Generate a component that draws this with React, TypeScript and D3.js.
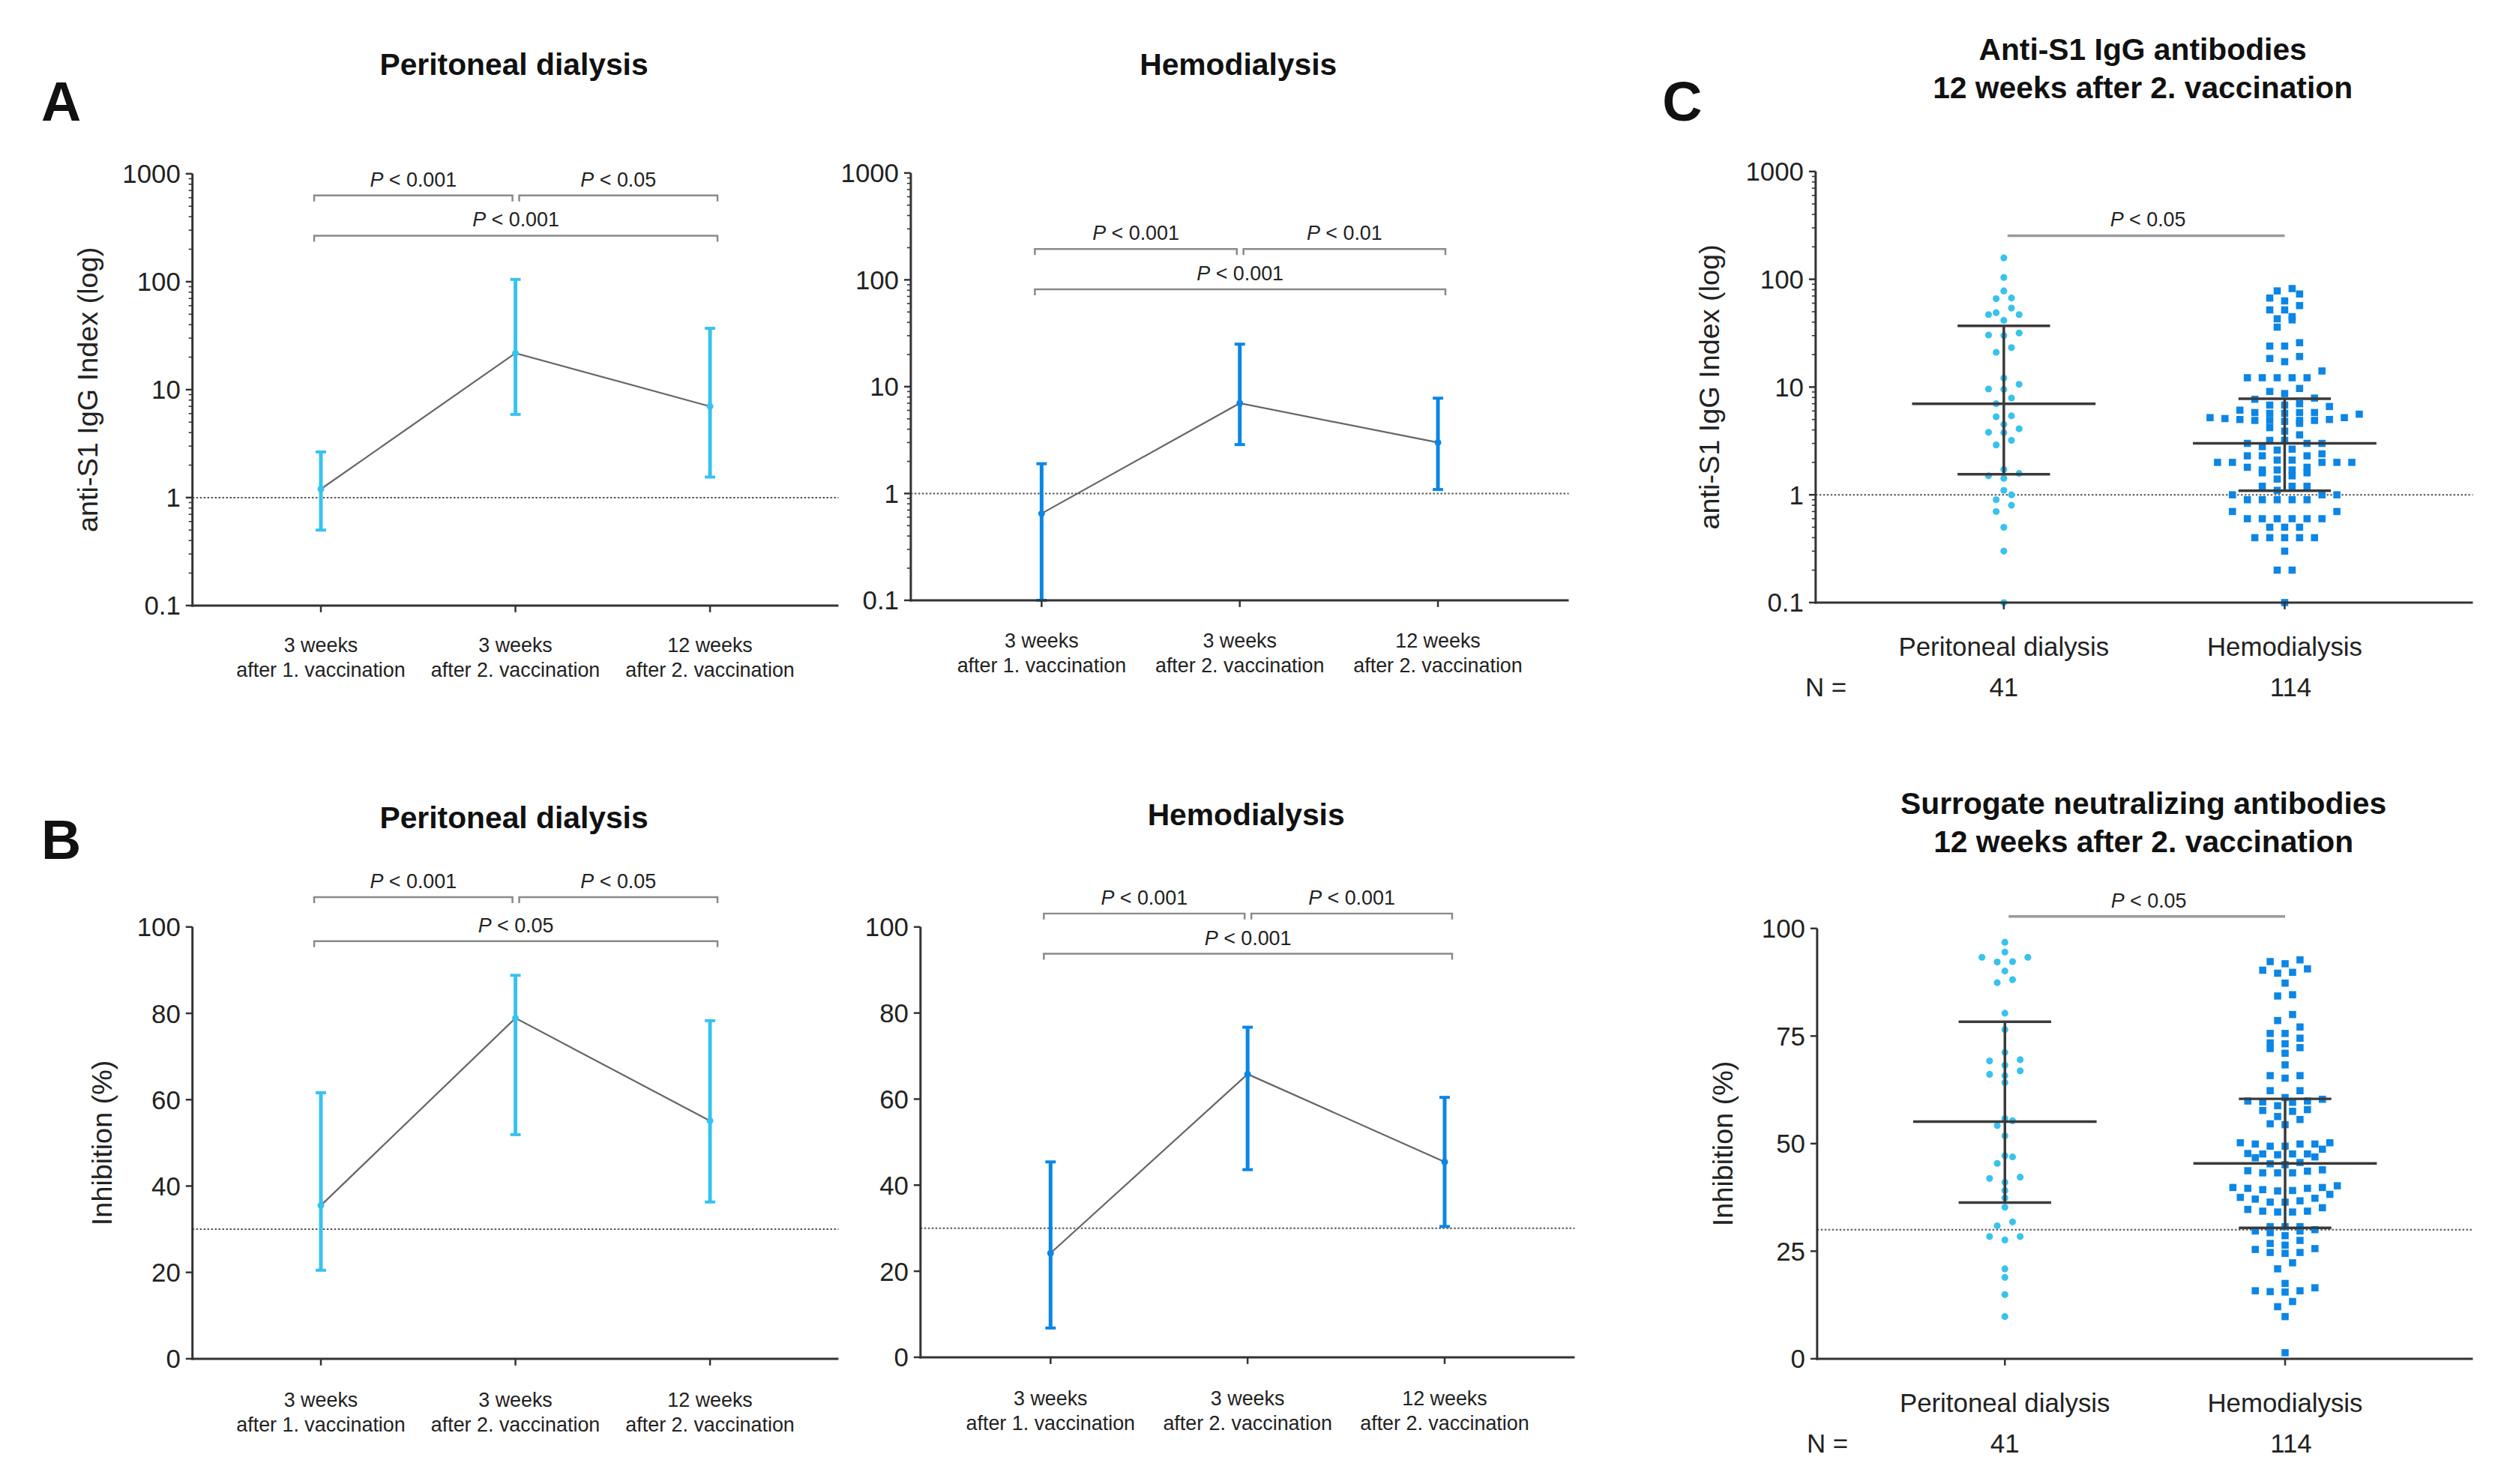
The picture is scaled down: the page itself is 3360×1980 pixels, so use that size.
import React from 'react'
import * as d3 from 'd3'

const FONT = "'Liberation Sans', Arial, Helvetica, sans-serif"
const PD_COLOR = '#38c2ee'
const HD_COLOR = '#0b86e6'
const AXIS = '#333333'
// positions below were measured on a slightly oversized copy of the figure
const FRAME_SCALE = 0.995

const timeKeys = ['w3d1', 'w3d2', 'w12d2']
const timeLine1 = ['3 weeks', '3 weeks', '12 weeks']
const timeLine2 = ['after 1. vaccination', 'after 2. vaccination', 'after 2. vaccination']

// anti-S1 IgG index: median and interquartile range per time point
const pdIgGMedian = [1.2, 21.8, 7.0]
const pdIgGQ1 = [0.5, 5.9, 1.55]
const pdIgGQ3 = [2.65, 105, 37]
const hdIgGMedian = [0.65, 7.0, 3.0]
const hdIgGQ1 = [0.1, 2.87, 1.09]
const hdIgGQ3 = [1.9, 25, 7.8]

// surrogate neutralization, inhibition (%)
const pdInhMedian = [35.5, 78.9, 55.1]
const pdInhQ1 = [20.5, 51.9, 36.3]
const pdInhQ3 = [61.6, 88.8, 78.3]
const hdInhMedian = [24.2, 65.8, 45.4]
const hdInhQ1 = [6.8, 43.6, 30.4]
const hdInhQ3 = [45.4, 76.7, 60.4]

// P values: [1 vs 2, 2 vs 3, 1 vs 3]
const pdIgGP = ['0.001', '0.05', '0.001']
const hdIgGP = ['0.001', '0.01', '0.001']
const pdInhP = ['0.001', '0.05', '0.05']
const hdInhP = ['0.001', '0.001', '0.001']

const groups = ['Peritoneal dialysis', 'Hemodialysis']
const groupN = [41, 114]

// individual values 12 weeks after 2. vaccination
const pdIgG12 = [
  158, 104, 78, 67, 66, 54, 49, 47, 47, 41.6, 30.4, 30, 31.7, 23.2, 21, 12.1, 10.6, 9.6, 9.5, 7.9, 7.0,
  5.4, 5.3, 4.5, 4.1, 3.8, 3.77, 3.2, 2.9, 1.72, 1.58, 1.5, 1.42, 1.1, 1.0, 0.9, 0.8, 0.7, 0.5, 0.3, 0.1,
]
const hdIgG12 = [
  73, 52, 78, 63, 52, 43, 36, 82, 67, 57, 42, 45,
  24, 18.4, 24, 19.2, 25.8, 17.2, 14.1, 12.2, 12.2, 12.2, 12.2, 9.7, 12.2, 9.1, 6.8, 8.7, 7.0, 7.9, 7.7, 6.6,
  5.7, 6.1, 5.2, 5.0, 5.8, 4.9, 5.7, 4.8, 4.6, 5.2, 6.8, 5.8, 4.9, 4.2, 4.9, 4.9, 5.0, 5.8, 5.1, 5.6, 3.9,
  3.0, 3.0, 2.8, 3.6, 3.0, 3.2, 2.65, 3.2, 2.6,
  2.3, 2.0, 1.7, 2.0, 1.7, 2.0, 1.7, 1.4, 2.4, 2.0, 1.6, 2.0, 1.5, 2.1, 1.6, 2.3, 1.8, 2.3, 1.8, 2.1,
  1.2, 1.0, 1.2, 1.0, 1.2, 0.9, 1.1, 0.9, 0.9, 0.9, 0.9, 1.0,
  0.7, 0.7, 0.6, 0.6, 0.6, 0.6, 0.6, 0.6, 0.5, 0.5, 0.5, 0.4, 0.4, 0.4, 0.4, 0.4, 0.3, 0.2, 0.2, 0.1,
]
const pdInh12 = [
  96.8, 94.5, 93.3, 93.3, 92.3, 92.2, 90.1, 88.1, 87.4, 80.3, 76.5, 71.2, 69.5, 69.2, 68.2, 66.9, 66.1,
  65.8, 64.2, 55.8, 55.3, 54.2, 51.8, 46.9, 47.2, 45.4, 42.2, 41.9, 41.0, 39.1, 37.4, 35.2, 31.8, 30.9,
  28.4, 28.4, 27.6, 20.9, 18.9, 14.9, 9.8,
]
const hdInh12 = [
  92.7, 90.6, 92.3, 90.3, 91.8, 89.6, 89.8, 87.3, 84.3, 84.6, 80.0, 78.6, 77.1, 75.6, 75.6, 73.2, 73.4,
  71.0, 74.5, 72.3, 72.1, 68.3, 65.8, 65.2, 65.8,
  60.7, 60.3, 59.9, 59.6, 57.7, 62.3, 59.7, 57.5, 62.3, 59.9, 57.9, 55.6, 58.8, 56.3, 54.6, 54.4,
  48.7, 45.1, 49.9, 47.6, 43.2, 49.9, 47.6, 45.6, 43.6, 49.4, 46.9, 43.2, 50.2, 47.6, 43.9, 49.9, 46.7,
  43.7, 50.2, 47.4, 45.3, 43.2, 49.4, 47.7,
  39.1, 39.6, 38.2, 37.1, 35.1, 40.2, 37.3, 34.1, 39.0, 36.7, 34.7, 39.3, 37.5, 34.1, 39.8, 36.4, 34.3,
  39.8, 36.4, 34.3, 39.6,
  30.7, 29.7, 29.7, 27.5, 25.4, 20.9, 30.7, 28.6, 24.5, 22.3, 29.3, 26.8, 24.7, 30.7, 25.6, 30.0, 26.4,
  24.7,
  15.8, 15.5, 15.6, 13.3, 17.5, 15.8, 16.5, 12.1, 9.8, 1.4,
]

const logTicks = [0.1, 1, 10, 100, 1000]
const pctTicksB = [0, 20, 40, 60, 80, 100]
const pctTicksC = [0, 25, 50, 75, 100]

const fmtTick = (v: number) => (v < 1 ? String(v) : d3.format('d')(v))

function PText({ x, y, p, size = 27 }: { x: number; y: number; p: string; size?: number }) {
  return (
    <text x={x} y={y} textAnchor="middle" fontSize={size} fontFamily={FONT} fill="#222">
      <tspan fontStyle="italic">P</tspan>
      {` < ${p}`}
    </text>
  )
}

function YAxis({ y, x, ticks, log }: { y: any; x: number; ticks: number[]; log: boolean }) {
  const [r0, r1] = y.range()
  const minor = log ? (y.ticks() as number[]).filter((t) => !ticks.includes(t)) : []
  return (
    <g>
      <line x1={x} x2={x} y1={r0 + 1.5} y2={r1} stroke={AXIS} strokeWidth={3} />
      {minor.map((t) => (
        <line key={'m' + t} x1={x - 5} x2={x} y1={y(t)} y2={y(t)} stroke={AXIS} strokeWidth={1.6} />
      ))}
      {ticks.map((t) => (
        <g key={t}>
          <line x1={x - 9} x2={x} y1={y(t)} y2={y(t)} stroke={AXIS} strokeWidth={2.5} />
          <text x={x - 16} y={y(t)} textAnchor="end" dominantBaseline="central" fontSize={35} fontFamily={FONT} fill="#222">
            {fmtTick(t)}
          </text>
        </g>
      ))}
    </g>
  )
}

interface LinePanelProps {
  left: number
  right: number
  top: number
  bottom: number
  log: boolean
  median: number[]
  q1: number[]
  q3: number[]
  pvals: string[]
  color: string
  title: string
  titleY: number
  yLabel?: string
  yLabelX?: number
  bracketY: [number, number]
  catY: number
}

function LinePanel(props: LinePanelProps) {
  const { left, right, top, bottom, log, median, q1, q3, pvals, color, title, titleY, yLabel, yLabelX, bracketY, catY } = props
  const x = d3.scalePoint<string>().domain(timeKeys).range([left, right]).padding(0.66)
  const y: any = log
    ? d3.scaleLog().domain([0.1, 1000]).range([bottom, top])
    : d3.scaleLinear().domain([0, 100]).range([bottom, top])
  const cutoff = log ? 1 : 30
  const pts = timeKeys.map((k, i) => [x(k) as number, y(median[i])] as [number, number])
  const line = d3.line()
  const xs = timeKeys.map((k) => x(k) as number)
  const bracket = (x1: number, x2: number, by: number, p: string, key: string) => (
    <g key={key}>
      <path d={`M${x1},${by + 8}V${by}H${x2}V${by + 8}`} fill="none" stroke="#8a8a8a" strokeWidth={2.5} />
      <PText x={(x1 + x2) / 2} y={by - 12} p={p} />
    </g>
  )
  return (
    <g>
      <text x={(left + right) / 2 - 2} y={titleY} textAnchor="middle" fontSize={41} fontWeight="bold" fontFamily={FONT} fill="#111">
        {title}
      </text>
      {bracket(xs[0] - 9, xs[1] - 4, bracketY[0], pvals[0], 'b1')}
      {bracket(xs[1] + 5, xs[2] + 10, bracketY[0], pvals[1], 'b2')}
      {bracket(xs[0] - 9, xs[2] + 10, bracketY[1], pvals[2], 'b3')}
      <line x1={left} x2={right} y1={y(cutoff)} y2={y(cutoff)} stroke="#555" strokeWidth={2} strokeDasharray="2.5,2.5" />
      <path d={line(pts) || ''} fill="none" stroke="#666" strokeWidth={2.2} />
      {timeKeys.map((k, i) => {
        const cx = x(k) as number
        return (
          <g key={k}>
            <line x1={cx} x2={cx} y1={y(q1[i])} y2={y(q3[i])} stroke={color} strokeWidth={5} />
            <line x1={cx - 7} x2={cx + 7} y1={y(q1[i])} y2={y(q1[i])} stroke={color} strokeWidth={4} />
            <line x1={cx - 7} x2={cx + 7} y1={y(q3[i])} y2={y(q3[i])} stroke={color} strokeWidth={4} />
            <circle cx={cx} cy={y(median[i])} r={4.5} fill={color} />
          </g>
        )
      })}
      <line x1={left - 1.5} x2={right} y1={bottom} y2={bottom} stroke={AXIS} strokeWidth={3} />
      {xs.map((cx, i) => (
        <g key={'c' + i}>
          <line x1={cx} x2={cx} y1={bottom} y2={bottom + 9} stroke={AXIS} strokeWidth={2.5} />
          <text x={cx} y={catY} textAnchor="middle" fontSize={27} fontFamily={FONT} fill="#222">
            {timeLine1[i]}
          </text>
          <text x={cx} y={catY + 34} textAnchor="middle" fontSize={27} fontFamily={FONT} fill="#222">
            {timeLine2[i]}
          </text>
        </g>
      ))}
      <YAxis y={y} x={left} ticks={log ? logTicks : pctTicksB} log={log} />
      {yLabel && (
        <text transform={`translate(${yLabelX},${(top + bottom) / 2}) rotate(-90)`} textAnchor="middle" dominantBaseline="central" fontSize={38} fontFamily={FONT} fill="#222">
          {yLabel}
        </text>
      )}
    </g>
  )
}

// Prism-like column scatter: values that fall into the same pixel band sit side by side
function swarm(values: number[], y: (v: number) => number, cx: number, binH: number, step: number) {
  const pts = values.map((v) => ({ v, py: y(v) })).sort((a, b) => b.py - a.py)
  const out: { v: number; py: number; px: number }[] = []
  let i = 0
  while (i < pts.length) {
    const start = pts[i].py
    let j = i
    while (j < pts.length && start - pts[j].py < binH) j++
    const n = j - i
    const slots = d3.range(n).map((k) => (k - (n - 1) / 2) * step)
    const order = slots.slice().sort((a, b) => Math.abs(a) - Math.abs(b) || a - b)
    for (let k = 0; k < n; k++) out.push({ ...pts[i + k], px: cx + order[k] })
    i = j
  }
  return out
}

interface ScatterPanelProps {
  left: number
  right: number
  top: number
  bottom: number
  log: boolean
  pdValues: number[]
  hdValues: number[]
  pdStats: [number, number, number]
  hdStats: [number, number, number]
  title: [string, string]
  titleY: number
  yLabel: string
  yLabelX: number
  pLineY: number
  catY: number
}

function ScatterPanel(props: ScatterPanelProps) {
  const { left, right, top, bottom, log, pdValues, hdValues, pdStats, hdStats, title, titleY, yLabel, yLabelX, pLineY, catY } = props
  const x = d3.scalePoint<string>().domain(groups).range([left, right]).padding(0.67)
  const y: any = log
    ? d3.scaleLog().domain([0.1, 1000]).range([bottom, top])
    : d3.scaleLinear().domain([0, 100]).range([bottom, top])
  const cutoff = log ? 1 : 30
  const pdX = x(groups[0]) as number
  const hdX = x(groups[1]) as number
  const pdPts = swarm(pdValues, y, pdX, 9, 20.5)
  const hdPts = swarm(hdValues, y, hdX, 10.5, 20)
  const stats = (cx: number, s: [number, number, number], key: string) => (
    <g key={key} stroke="#3a3a3a" strokeWidth={3.5}>
      <line x1={cx} x2={cx} y1={y(s[1])} y2={y(s[2])} />
      <line x1={cx - 123} x2={cx + 123} y1={y(s[0])} y2={y(s[0])} />
      <line x1={cx - 62} x2={cx + 62} y1={y(s[1])} y2={y(s[1])} />
      <line x1={cx - 62} x2={cx + 62} y1={y(s[2])} y2={y(s[2])} />
    </g>
  )
  const cx0 = (left + right) / 2
  return (
    <g>
      <text textAnchor="middle" fontSize={41} fontWeight="bold" fontFamily={FONT} fill="#111">
        <tspan x={cx0 - 2} y={titleY}>{title[0]}</tspan>
        <tspan x={cx0 - 2} y={titleY + 52}>{title[1]}</tspan>
      </text>
      <line x1={pdX + 5} x2={hdX} y1={pLineY} y2={pLineY} stroke="#9a9a9a" strokeWidth={3.5} />
      <PText x={(pdX + hdX) / 2 + 5} y={pLineY - 12} p="0.05" />
      <line x1={left} x2={right} y1={y(cutoff)} y2={y(cutoff)} stroke="#555" strokeWidth={2} strokeDasharray="2.5,2.5" />
      {pdPts.map((p, i) => (
        <circle key={'p' + i} cx={p.px} cy={p.py} r={4.6} fill={PD_COLOR} />
      ))}
      {hdPts.map((p, i) => (
        <rect key={'h' + i} x={p.px - 4.8} y={p.py - 4.8} width={9.6} height={9.6} fill={HD_COLOR} />
      ))}
      {stats(pdX, pdStats, 'spd')}
      {stats(hdX, hdStats, 'shd')}
      <line x1={left - 1.5} x2={right} y1={bottom} y2={bottom} stroke={AXIS} strokeWidth={3} />
      {[pdX, hdX].map((cx, i) => (
        <g key={'g' + i}>
          <line x1={cx} x2={cx} y1={bottom} y2={bottom + 9} stroke={AXIS} strokeWidth={2.5} />
          <text x={cx} y={catY} textAnchor="middle" fontSize={35} fontFamily={FONT} fill="#222">
            {groups[i]}
          </text>
          <text x={cx + (i === 1 ? 8 : 0)} y={catY + 55} textAnchor="middle" fontSize={35} fontFamily={FONT} fill="#222">
            {groupN[i]}
          </text>
        </g>
      ))}
      <text x={left - 14} y={catY + 55} fontSize={35} fontFamily={FONT} fill="#222">
        N =
      </text>
      <YAxis y={y} x={left} ticks={log ? logTicks : pctTicksC} log={log} />
      <text transform={`translate(${yLabelX},${(top + bottom) / 2}) rotate(-90)`} textAnchor="middle" dominantBaseline="central" fontSize={38} fontFamily={FONT} fill="#222">
        {yLabel}
      </text>
    </g>
  )
}

export default function App() {
  const letter = (t: string, x: number, y: number) => (
    <text x={x} y={y} textAnchor="middle" fontSize={74} fontWeight="bold" fontFamily={FONT} fill="#111">
      {t}
    </text>
  )
  return (
    <svg width={3360} height={1980} style={{ position: 'absolute', left: 0, top: 0, background: '#fff' }}>
      <rect width={3360} height={1980} fill="#fff" />
      <g transform={`scale(${FRAME_SCALE})`}>
        {letter('A', 82, 162)}
        {letter('B', 82, 1152)}
        {letter('C', 2255, 162)}
        <LinePanel
          left={258} right={1124} top={233} bottom={812} log
          median={pdIgGMedian} q1={pdIgGQ1} q3={pdIgGQ3} pvals={pdIgGP} color={PD_COLOR}
          title="Peritoneal dialysis" titleY={100} yLabel="anti-S1 IgG Index (log)" yLabelX={118}
          bracketY={[262, 316]} catY={874}
        />
        <LinePanel
          left={1221} right={2103} top={232} bottom={805} log
          median={hdIgGMedian} q1={hdIgGQ1} q3={hdIgGQ3} pvals={hdIgGP} color={HD_COLOR}
          title="Hemodialysis" titleY={100}
          bracketY={[334, 388]} catY={868}
        />
        <LinePanel
          left={258} right={1124} top={1243} bottom={1822} log={false}
          median={pdInhMedian} q1={pdInhQ1} q3={pdInhQ3} pvals={pdInhP} color={PD_COLOR}
          title="Peritoneal dialysis" titleY={1111} yLabel="Inhibition (%)" yLabelX={137}
          bracketY={[1203, 1262]} catY={1886}
        />
        <LinePanel
          left={1234} right={2111} top={1243} bottom={1820} log={false}
          median={hdInhMedian} q1={hdInhQ1} q3={hdInhQ3} pvals={hdInhP} color={HD_COLOR}
          title="Hemodialysis" titleY={1107}
          bracketY={[1225, 1279]} catY={1884}
        />
        <ScatterPanel
          left={2434} right={3315} top={230} bottom={808} log
          pdValues={pdIgG12} hdValues={hdIgG12}
          pdStats={[pdIgGMedian[2], pdIgGQ1[2], pdIgGQ3[2]]}
          hdStats={[hdIgGMedian[2], hdIgGQ1[2], hdIgGQ3[2]]}
          title={['Anti-S1 IgG antibodies', '12 weeks after 2. vaccination']} titleY={80}
          yLabel="anti-S1 IgG Index (log)" yLabelX={2291} pLineY={316} catY={879}
        />
        <ScatterPanel
          left={2436} right={3315} top={1245} bottom={1822} log={false}
          pdValues={pdInh12} hdValues={hdInh12}
          pdStats={[pdInhMedian[2], pdInhQ1[2], pdInhQ3[2]]}
          hdStats={[hdInhMedian[2], hdInhQ1[2], hdInhQ3[2]]}
          title={['Surrogate neutralizing antibodies', '12 weeks after 2. vaccination']} titleY={1091}
          yLabel="Inhibition (%)" yLabelX={2310} pLineY={1229} catY={1893}
        />
      </g>
    </svg>
  )
}
